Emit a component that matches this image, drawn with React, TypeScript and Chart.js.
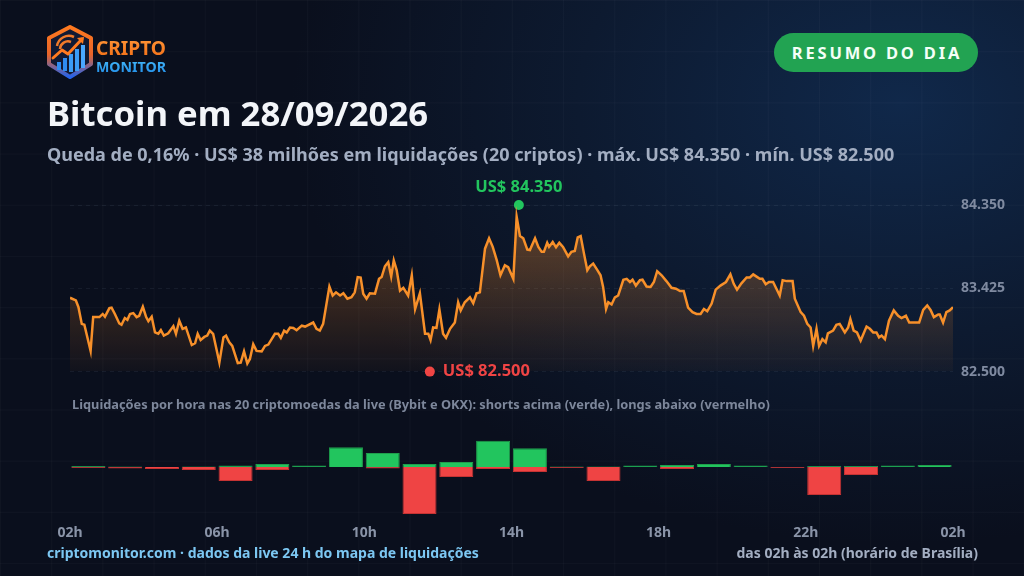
import React, { useEffect, useRef } from "react";
import { Chart, registerables } from "chart.js";
Chart.register(...registerables);

const FONT = '"Noto Sans", "Open Sans", sans-serif';

// Price series (hours after 02h, US$)
const priceHours = [
  0, 0.16, 0.23, 0.32, 0.39, 0.56, 0.63, 0.8, 0.89, 0.95,
  1.07, 1.13, 1.22, 1.34, 1.4, 1.49, 1.56, 1.63, 1.72, 1.81,
  1.88, 1.98, 2.07, 2.13, 2.22, 2.31, 2.4, 2.47, 2.55, 2.67,
  2.81, 2.88, 2.97, 3.06, 3.15, 3.31, 3.4, 3.47, 3.55, 3.65,
  3.73, 3.8, 3.89, 4.06, 4.17, 4.24, 4.33, 4.41, 4.56, 4.64,
  4.73, 4.82, 4.89, 4.98, 5.07, 5.21, 5.3, 5.39, 5.57, 5.66,
  5.73, 5.82, 5.89, 5.98, 6.07, 6.16, 6.3, 6.39, 6.61, 6.7,
  6.79, 6.88, 7.05, 7.14, 7.23, 7.34, 7.43, 7.54, 7.65, 7.74,
  7.82, 7.9, 7.97, 8.06, 8.15, 8.29, 8.4, 8.47, 8.56, 8.65,
  8.73, 8.8, 8.88, 8.97, 9.06, 9.19, 9.29, 9.38, 9.51, 9.65,
  9.74, 9.8, 9.87, 9.96, 10.04, 10.14, 10.22, 10.33, 10.46, 10.55,
  10.62, 10.73, 10.87, 10.96, 11.05, 11.14, 11.28, 11.39, 11.49, 11.6,
  11.7, 11.82, 11.91, 12.05, 12.14, 12.23, 12.32, 12.43, 12.5, 12.64,
  12.73, 12.82, 12.88, 12.97, 13.02, 13.12, 13.21, 13.3, 13.4, 13.54,
  13.63, 13.72, 13.8, 13.88, 13.97, 14.06, 14.13, 14.22, 14.33, 14.42,
  14.49, 14.57, 14.63, 14.72, 14.81, 14.9, 15.04, 15.13, 15.22, 15.29,
  15.38, 15.49, 15.56, 15.67, 15.78, 15.87, 15.96, 16.08, 16.21, 16.35,
  16.47, 16.58, 16.68, 16.8, 16.92, 17.03, 17.14, 17.23, 17.32, 17.44,
  17.55, 17.68, 17.83, 17.95, 18.04, 18.13, 18.25, 18.39, 18.48, 18.57,
  18.66, 18.75, 18.82, 18.91, 19.0, 19.11, 19.2, 19.29, 19.37, 19.48,
  19.64, 19.7, 19.86, 19.95, 20.04, 20.13, 20.2, 20.29, 20.36, 20.45,
  20.54, 20.6, 20.74, 20.83, 20.92, 21.06, 21.15, 21.21, 21.3, 21.39,
  21.49, 21.65, 21.74, 21.83, 21.92, 21.99, 22.06, 22.15, 22.26, 22.39,
  22.51, 22.6, 22.72, 22.81, 22.96, 23.08, 23.19, 23.3, 23.39, 23.48,
  23.6, 23.64, 23.73, 23.82, 23.91, 24,
];
const priceValues = [
  83320, 83290, 83215, 83030, 83020, 82730, 83105, 83105, 83140, 83110,
  83205, 83210, 83140, 83035, 83020, 83095, 83075, 83140, 83150, 83105,
  83120, 83220, 83105, 83060, 83110, 82935, 82920, 82960, 82900, 82925,
  83005, 82920, 83065, 82975, 82990, 82795, 82815, 82920, 82850, 82885,
  82900, 82955, 82920, 82600, 82880, 82900, 82825, 82785, 82595, 82600,
  82725, 82590, 82640, 82805, 82730, 82725, 82785, 82800, 82920, 82920,
  82875, 82955, 82935, 82990, 82985, 82960, 83010, 83000, 83045, 82975,
  82955, 83030, 83445, 83345, 83380, 83345, 83370, 83310, 83325, 83380,
  83550, 83545, 83365, 83310, 83370, 83365, 83530, 83550, 83670, 83715,
  83555, 83735, 83625, 83400, 83430, 83345, 83570, 83195, 83370, 82920,
  82920, 82850, 82990, 82985, 83190, 82920, 82875, 82975, 83045, 83270,
  83180, 83270, 83325, 83260, 83370, 83380, 83865, 83980, 83885, 83735,
  83570, 83680, 83660, 83530, 84220, 84005, 83980, 83855, 83850, 83980,
  83885, 83830, 83830, 83930, 83885, 83940, 83880, 83930, 83885, 83780,
  83830, 83840, 83990, 84005, 83810, 83625, 83670, 83700, 83630, 83570,
  83440, 83195, 83270, 83245, 83325, 83345, 83520, 83530, 83495, 83520,
  83455, 83515, 83520, 83445, 83440, 83495, 83615, 83570, 83505, 83430,
  83420, 83395, 83395, 83210, 83160, 83140, 83140, 83195, 83170, 83255,
  83410, 83455, 83495, 83580, 83475, 83410, 83480, 83545, 83545, 83580,
  83555, 83530, 83530, 83470, 83495, 83495, 83420, 83345, 83515, 83505,
  83505, 83310, 83160, 83120, 83030, 82990, 82785, 82975, 82785, 82860,
  82825, 82925, 82955, 83020, 83030, 82935, 82990, 83085, 82955, 82935,
  82845, 83000, 82975, 82935, 82935, 82880, 82900, 82860, 83065, 83180,
  83120, 83095, 83120, 83045, 83045, 83045, 83185, 83235, 83185, 83105,
  83135, 83135, 83045, 83160, 83180, 83215,
];

// Day extremes (marker hour, price)
const extremeHours = [12.2, 9.78];
const extremeValues = [84350, 82500];
const extremeLabels = ["US$ 84.350", "US$ 82.500"];
const extremeColors = ["#22c55e", "#ef4444"];

const priceTicks = [82500, 83425, 84350];

// Hourly liquidations (US$ millions)
const liqHours = [
  0, 1, 2, 3, 4, 5, 6, 7, 8, 9, 10, 11, 12, 13, 14, 15, 16, 17, 18, 19, 20, 21, 22, 23,
];
const shortsLiq = [
  0.15, 0.08, 0, 0.08, 0.22, 0.45, 0.22, 2.95, 2.1, 0.45, 0.75, 3.95,
  2.8, 0.08, 0.08, 0.22, 0.3, 0.45, 0.22, 0, 0.15, 0.15, 0.22, 0.3,
];
const longsLiq = [
  0.15, 0.22, 0.3, 0.45, 2.1, 0.45, 0, 0, 0.22, 7.05, 1.5, 0.3,
  0.75, 0.15, 2.1, 0, 0.3, 0, 0, 0.15, 4.2, 1.2, 0, 0,
];

const hourTickValues = [0, 4, 8, 12, 16, 20, 24];
const hourTickLabels = ["02h", "06h", "10h", "14h", "18h", "22h", "02h"];

const fmtPrice = (v: number) =>
  Math.floor(v / 1000) + "." + String(Math.round(v % 1000)).padStart(3, "0");

export default function App() {
  const priceRef = useRef<HTMLCanvasElement | null>(null);
  const liqRef = useRef<HTMLCanvasElement | null>(null);

  useEffect(() => {
    const labelsPlugin = {
      id: "extremeLabels",
      afterDatasetsDraw(chart: any) {
        const meta = chart.getDatasetMeta(1);
        const ctx = chart.ctx;
        ctx.save();
        ctx.font = `bold 16.5px ${FONT}`;
        ctx.textBaseline = "middle";
        meta.data.forEach((pt: any, i: number) => {
          ctx.fillStyle = extremeColors[i];
          if (i === 0) {
            ctx.textAlign = "center";
            ctx.fillText(extremeLabels[i], pt.x, pt.y - 18);
          } else {
            ctx.textAlign = "left";
            ctx.fillText(extremeLabels[i], pt.x + 13, pt.y);
          }
        });
        ctx.restore();
      },
    };

    const priceChart = new Chart(priceRef.current as HTMLCanvasElement, {
      type: "line",
      data: {
        datasets: [
          {
            data: priceHours.map((h, i) => ({ x: h, y: priceValues[i] })),
            borderColor: "#f7902a",
            borderWidth: 2.5,
            pointRadius: 0,
            tension: 0,
            fill: "start",
            backgroundColor: (c: any) => {
              const area = c.chart.chartArea;
              if (!area) return "rgba(0,0,0,0)";
              const g = c.chart.ctx.createLinearGradient(0, area.top, 0, area.bottom);
              g.addColorStop(0, "rgba(247,140,40,0.38)");
              g.addColorStop(1, "rgba(247,140,40,0.03)");
              return g;
            },
          },
          {
            data: extremeHours.map((h, i) => ({ x: h, y: extremeValues[i] })),
            showLine: false,
            pointRadius: 5,
            pointBorderWidth: 0,
            pointBackgroundColor: extremeColors,
            clip: false as any,
          },
        ],
      },
      options: {
        animation: false,
        responsive: false,
        layout: { padding: { left: 70, top: 35, bottom: 9, right: 0 } },
        plugins: { legend: { display: false }, tooltip: { enabled: false } },
        scales: {
          x: { type: "linear", min: 0, max: 24, display: false },
          y: {
            position: "right",
            min: 82500,
            max: 84350,
            afterFit: (s: any) => {
              s.width = 71;
            },
            afterBuildTicks: (s: any) => {
              s.ticks = priceTicks.map((v) => ({ value: v }));
            },
            ticks: {
              color: "#7f8aa0",
              font: { family: FONT, size: 14, weight: "bold" },
              padding: 8,
              callback: (v: any) => fmtPrice(Number(v)),
            },
            grid: { drawTicks: false, color: "rgba(148,163,184,0.09)" },
            border: { display: false, dash: [4, 4] },
          },
        },
      },
      plugins: [labelsPlugin],
    } as any);

    const liqChart = new Chart(liqRef.current as HTMLCanvasElement, {
      type: "bar",
      data: {
        datasets: [
          {
            data: liqHours.map((h, i) => ({ x: h + 0.5, y: shortsLiq[i] })),
            backgroundColor: "#22c55e",
            borderColor: "#1f9e4c",
            borderWidth: 1,
            categoryPercentage: 0.925,
            barPercentage: 1,
          },
          {
            data: liqHours.map((h, i) => ({ x: h + 0.5, y: -longsLiq[i] })),
            backgroundColor: "#ef4444",
            borderColor: "#c53333",
            borderWidth: 1,
            categoryPercentage: 0.925,
            barPercentage: 1,
          },
        ],
      },
      options: {
        animation: false,
        responsive: false,
        layout: { padding: { left: 70, top: 6, bottom: 0, right: 71 } },
        plugins: { legend: { display: false }, tooltip: { enabled: false } },
        scales: {
          x: {
            type: "linear",
            min: 0,
            max: 24,
            offset: false,
            stacked: true,
            afterFit: (s: any) => {
              s.height = 27;
            },
            afterBuildTicks: (s: any) => {
              s.ticks = hourTickValues.map((v) => ({ value: v }));
            },
            ticks: {
              color: "#8a94a8",
              font: { family: FONT, size: 14, weight: "bold" },
              padding: 7,
              maxRotation: 0,
              autoSkip: false,
              callback: (_v: any, i: number) => hourTickLabels[i],
            },
            grid: { display: false, drawTicks: false, offset: false },
            border: { display: false },
          },
          y: { stacked: true, min: -7.65, max: 7.65, display: false },
        },
      },
    } as any);

    return () => {
      priceChart.destroy();
      liqChart.destroy();
    };
  }, []);

  const abs = (o: any) => ({ position: "absolute" as const, ...o });

  return (
    <div
      style={{
        position: "fixed",
        left: 0,
        top: 0,
        width: 1024,
        height: 576,
        overflow: "hidden",
        fontFamily: FONT,
        background:
          "radial-gradient(ellipse 70% 90% at 88% 18%, #10284a 0%, #0d1a30 45%, #0a0f1d 85%)",
      }}
    >
      <div
        style={abs({
          left: 0,
          top: 0,
          width: 1024,
          height: 576,
          backgroundImage:
            "linear-gradient(rgba(255,255,255,0.022) 1px, transparent 1px), linear-gradient(90deg, rgba(255,255,255,0.022) 1px, transparent 1px)",
          backgroundSize: "51.2px 51.2px",
          backgroundPosition: "0px 0px",
        })}
      />
      {/* Logo */}
      <svg style={abs({ left: 44, top: 24 })} width={128} height={58} viewBox="0 0 128 58">
        <defs>
          <linearGradient id="hexg" x1="0" y1="0" x2="0" y2="1">
            <stop offset="0" stopColor="#ff7a1f" />
            <stop offset="0.55" stopColor="#e8642a" />
            <stop offset="1" stopColor="#2563eb" />
          </linearGradient>
          <linearGradient id="txo" x1="0" y1="0" x2="0" y2="1">
            <stop offset="0" stopColor="#ff9a3c" />
            <stop offset="1" stopColor="#f26a12" />
          </linearGradient>
          <linearGradient id="txb" x1="0" y1="0" x2="0" y2="1">
            <stop offset="0" stopColor="#4cc3ff" />
            <stop offset="1" stopColor="#1e88e5" />
          </linearGradient>
        </defs>
        <path d="M26 3 L47 14 L47 40 L26 53 L5 40 L5 14 Z" fill="#121a33" stroke="url(#hexg)" strokeWidth="4" strokeLinejoin="round" />
        <path d="M13 22 A12 12 0 0 1 30 13" fill="none" stroke="#f07a2a" strokeWidth="2.5" />
        <path d="M16 25 A8 8 0 0 1 27 18" fill="none" stroke="#f07a2a" strokeWidth="2.5" />
        <rect x="13" y="38" width="4" height="8" fill="#2f8cf0" />
        <rect x="19" y="34" width="4" height="13" fill="#2f8cf0" />
        <rect x="25" y="30" width="4" height="18" fill="#3b9cf5" />
        <rect x="31" y="25" width="4" height="22" fill="#3b9cf5" />
        <rect x="37" y="21" width="4" height="23" fill="#4aa8ff" />
        <path d="M9 34 L18 26 L24 30 L38 15" fill="none" stroke="#ff7a1f" strokeWidth="3" strokeLinecap="round" strokeLinejoin="round" />
        <path d="M33 14 L40 13 L39 20 Z" fill="#ff7a1f" />
        <text x="52" y="31" fontFamily={FONT} fontWeight="bold" fontSize="19" fill="url(#txo)" textLength="70" lengthAdjust="spacingAndGlyphs">
          CRIPTO
        </text>
        <text x="52" y="48" fontFamily={FONT} fontWeight="bold" fontSize="15" fill="url(#txb)" textLength="70" lengthAdjust="spacingAndGlyphs">
          MONITOR
        </text>
      </svg>
      {/* Badge */}
      <div
        style={abs({
          left: 774,
          top: 33,
          width: 204,
          height: 39,
          borderRadius: 20,
          background: "#22a352",
          color: "#f4fff7",
          fontWeight: "bold",
          fontSize: 16.5,
          letterSpacing: 2.8,
          lineHeight: "39px",
          textAlign: "center",
          paddingLeft: 2,
          boxSizing: "border-box",
        })}
      >
        RESUMO DO DIA
      </div>
      <div style={abs({ left: 47, top: 93, fontSize: 34.7, lineHeight: "40px", fontWeight: "bold", color: "#f3f5f9", whiteSpace: "nowrap" })}>
        Bitcoin em 28/09/2026
      </div>
      <div style={abs({ left: 47, top: 143, fontSize: 18, lineHeight: "22px", fontWeight: "bold", color: "#a3aec2", whiteSpace: "nowrap" })}>
        Queda de 0,16% · US$ 38 milhões em liquidações (20 criptos) · máx. US$ 84.350 · mín. US$ 82.500
      </div>
      <canvas ref={priceRef} width={1024} height={218} style={abs({ left: 0, top: 170 })} />
      <div style={abs({ left: 72, top: 396, fontSize: 12.8, lineHeight: "16px", fontWeight: "bold", color: "#7d879b", whiteSpace: "nowrap" })}>
        Liquidações por hora nas 20 criptomoedas da live (Bybit e OKX): shorts acima (verde), longs abaixo (vermelho)
      </div>
      <canvas ref={liqRef} width={1024} height={135} style={abs({ left: 0, top: 410 })} />
      <div style={abs({ left: 47, top: 544, fontSize: 14, lineHeight: "17px", fontWeight: "bold", color: "#7cc7f2", whiteSpace: "nowrap" })}>
        criptomonitor.com · dados da live 24 h do mapa de liquidações
      </div>
      <div style={abs({ right: 46, top: 544, fontSize: 14, lineHeight: "17px", fontWeight: "bold", color: "#a3aec2", whiteSpace: "nowrap", textAlign: "right" })}>
        das 02h às 02h (horário de Brasília)
      </div>
    </div>
  );
}
